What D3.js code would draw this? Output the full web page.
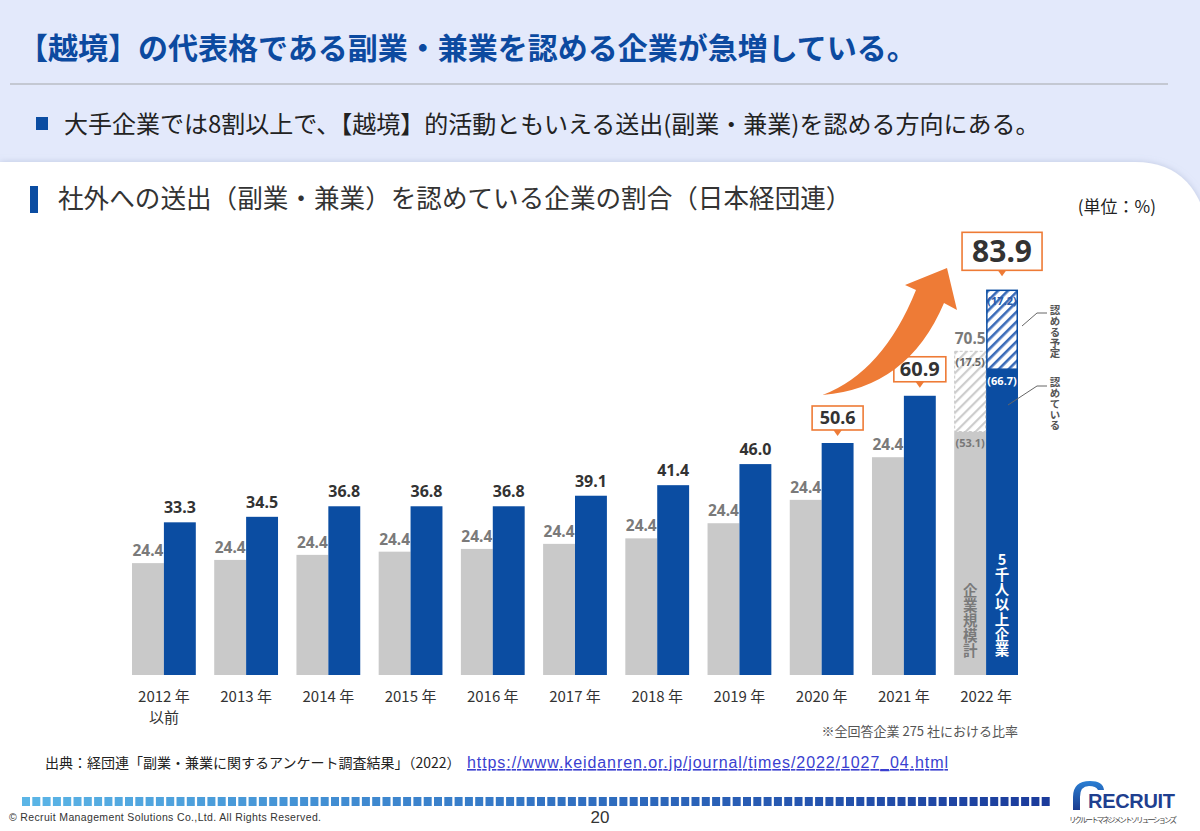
<!DOCTYPE html>
<html><head><meta charset="utf-8">
<script src="https://cdn.jsdelivr.net/npm/d3@7/dist/d3.min.js"></script>
<style>
html,body{margin:0;padding:0;background:#fff;}
svg{display:block;}
</style></head>
<body>
<svg id="c" width="1200" height="831"></svg>
<script>
// ---------------- DATA ----------------
const years = ["2012","2013","2014","2015","2016","2017","2018","2019","2020","2021","2022"];
const yearLabels = ["2012 年","2013 年","2014 年","2015 年","2016 年","2017 年","2018 年","2019 年","2020 年","2021 年","2022 年"];
const yearSubLabels = ["以前","","","","","","","","","",""];
// 5千人以上企業 (認めている)
const blueValues = [33.3,34.5,36.8,36.8,36.8,39.1,41.4,46.0,50.6,60.9,66.7];
const blueLabels = ["33.3","34.5","36.8","36.8","36.8","39.1","41.4","46.0","50.6","60.9","(66.7)"];
// 企業規模計 (heights as drawn; labels as printed)
const greyValues = [24.4,25.1,26.2,26.9,27.5,28.6,29.8,33.1,38.2,47.5,53.1];
const greyLabels = ["24.4","24.4","24.4","24.4","24.4","24.4","24.4","24.4","24.4","24.4","(53.1)"];
// 2022 認める予定
const plannedYear = "2022";
const bluePlanned = 17.2, bluePlannedLabel = "(17.2)", blueTotalLabel = "83.9";
const greyPlanned = 17.5, greyPlannedLabel = "(17.5)", greyTotalLabel = "70.5";
const calloutYears = ["2020","2021"];

const title = "【越境】の代表格である副業・兼業を認める企業が急増している。";
const subtitle = "大手企業では8割以上で、【越境】的活動ともいえる送出(副業・兼業)を認める方向にある。";
const chartTitle = "社外への送出（副業・兼業）を認めている企業の割合（日本経団連）";
const unitLabel = "(単位：%)";
const note = "※全回答企業 275 社における比率";
const source = "出典：経団連「副業・兼業に関するアンケート調査結果」（2022）";
const sourceUrl = "https://www.keidanren.or.jp/journal/times/2022/1027_04.html";
const greyName = "企業規模計", blueName = "5千人以上企業";
const plannedName = "認める予定", currentName = "認めている";

// ---------------- SETUP ----------------
const svg = d3.select("#c");
const JP = "'Noto Sans CJK JP','Noto Sans',sans-serif";
const NUM = "'Noto Sans','Open Sans',sans-serif";
const BLUE = "#0b4da2", GREY = "#c9c9c9", ORANGE = "#ee7b36";

const defs = svg.append("defs");
const pg = defs.append("pattern").attr("id","hatchGrey").attr("patternUnits","userSpaceOnUse")
  .attr("width",7).attr("height",7).attr("patternTransform","rotate(45)");
pg.append("rect").attr("width",7).attr("height",7).attr("fill","#fff");
pg.append("rect").attr("width",2.2).attr("height",7).attr("fill","#cdcdcd");
const pb = defs.append("pattern").attr("id","hatchBlue").attr("patternUnits","userSpaceOnUse")
  .attr("width",7).attr("height",7).attr("patternTransform","rotate(45)");
pb.append("rect").attr("width",7).attr("height",7).attr("fill","#fff");
pb.append("rect").attr("width",2.6).attr("height",7).attr("fill","#3a6bb8");
const lg = defs.append("linearGradient").attr("id","logoGrad").attr("x1","0").attr("x2","0").attr("y1","0").attr("y2","1");
lg.append("stop").attr("offset","0").attr("stop-color","#2a7fd4");
lg.append("stop").attr("offset","1").attr("stop-color","#1a3c8f");
const sh = defs.append("filter").attr("id","shadow").attr("x","-5%").attr("y","-5%").attr("width","110%").attr("height","110%");
sh.append("feDropShadow").attr("dx",0).attr("dy",0).attr("stdDeviation",3).attr("flood-color","#9aa6c8").attr("flood-opacity",0.5);

// background
svg.append("rect").attr("width",1200).attr("height",831).attr("fill","#e3e9fb");
svg.append("path").attr("d","M0,162 L1135,162 Q1200,162 1210,240 L1210,840 L0,840 Z")
  .attr("fill","#fff").attr("filter","url(#shadow)");
svg.append("rect").attr("x",0).attr("y",775).attr("width",1200).attr("height",56).attr("fill","#fff");

// headers
svg.append("text").attr("x",18).attr("y",59).attr("font-family",JP).attr("font-weight",700)
  .attr("font-size",30).attr("fill","#0c4aa0").text(title);
svg.append("rect").attr("x",10).attr("y",83).attr("width",1158).attr("height",2).attr("fill","#c4c8d2");
svg.append("rect").attr("x",36).attr("y",117).attr("width",12).attr("height",13).attr("fill",BLUE);
svg.append("text").attr("x",64).attr("y",133).attr("font-family",JP).attr("font-size",24)
  .attr("fill","#222").text(subtitle);
svg.append("rect").attr("x",30).attr("y",186).attr("width",8).attr("height",27).attr("fill",BLUE);
svg.append("text").attr("x",58).attr("y",208).attr("font-family",JP).attr("font-size",25.6)
  .attr("fill","#333").text(chartTitle);
svg.append("text").attr("x",1156).attr("y",213).attr("text-anchor","end").attr("font-family",JP)
  .attr("font-size",17).attr("fill","#222").text(unitLabel);

// ---------------- SCALES ----------------
const y = d3.scaleLinear().domain([0,100]).range([675,216.5]);
const x = d3.scaleBand().domain(years).range([132,1018]).paddingInner(0.224).paddingOuter(0);
const xs = d3.scaleBand().domain(["grey","blue"]).range([0,x.bandwidth()]);
const bw = xs.bandwidth();

const g = svg.append("g");
const rows = years.map((yr,i)=>({yr,i,grey:greyValues[i],blue:blueValues[i]}));

// grey bars
g.selectAll(".gb").data(rows).join("rect")
  .attr("x",d=>x(d.yr)+xs("grey")).attr("width",bw)
  .attr("y",d=>y(d.grey)).attr("height",d=>y(0)-y(d.grey)).attr("fill",GREY);
// blue bars
g.selectAll(".bb").data(rows).join("rect")
  .attr("x",d=>x(d.yr)+xs("blue")).attr("width",bw)
  .attr("y",d=>y(d.blue)).attr("height",d=>y(0)-y(d.blue)).attr("fill",BLUE);

// planned (2022) stacked hatched parts
const pi = years.indexOf(plannedYear);
const gx = x(plannedYear)+xs("grey"), bx = x(plannedYear)+xs("blue");
g.append("rect").attr("x",gx+0.5).attr("width",bw-1)
  .attr("y",y(greyValues[pi]+greyPlanned)).attr("height",y(greyValues[pi])-y(greyValues[pi]+greyPlanned))
  .attr("fill","url(#hatchGrey)").attr("stroke","#c8c8c8").attr("stroke-width",1).attr("stroke-dasharray","3,2");
g.append("rect").attr("x",bx+0.75).attr("width",bw-1.5)
  .attr("y",y(blueValues[pi]+bluePlanned)).attr("height",y(blueValues[pi])-y(blueValues[pi]+bluePlanned))
  .attr("fill","url(#hatchBlue)").attr("stroke",BLUE).attr("stroke-width",1.5);

// grey labels
rows.forEach(d=>{
  if (d.yr===plannedYear) return;
  g.append("text").attr("x",x(d.yr)+xs("grey")+bw/2).attr("y",y(d.grey)-7)
    .attr("text-anchor","middle").attr("font-family",NUM).attr("font-weight",700)
    .attr("font-size",15.5).attr("fill","#7a7a7a").text(greyLabels[d.i]);
});
// blue labels (plain)
rows.forEach(d=>{
  if (d.yr===plannedYear || calloutYears.includes(d.yr)) return;
  g.append("text").attr("x",x(d.yr)+xs("blue")+bw/2).attr("y",y(d.blue)-9)
    .attr("text-anchor","middle").attr("font-family",NUM).attr("font-weight",700)
    .attr("font-size",16).attr("fill","#333").text(blueLabels[d.i]);
});

// callout boxes
function callout(cx, barTop, w, h, gap, fs, txt){
  const by = barTop - gap - h;
  g.append("path").attr("d",`M${cx-5},${by+h-1} L${cx},${by+h+6} L${cx+5},${by+h-1} Z`).attr("fill",ORANGE);
  g.append("rect").attr("x",cx-w/2).attr("y",by).attr("width",w).attr("height",h)
    .attr("fill","#fff").attr("stroke",ORANGE).attr("stroke-width",1.6);
  g.append("text").attr("x",cx).attr("y",by+h/2+fs*0.36).attr("text-anchor","middle")
    .attr("font-family",NUM).attr("font-weight",700).attr("font-size",fs).attr("fill","#333").text(txt);
}
callout(x("2020")+xs("blue")+bw/2, y(blueValues[8]), 51, 24, 13, 18, blueLabels[8]);
callout(x("2021")+xs("blue")+bw/2, y(blueValues[9]), 52, 25, 14, 20, blueLabels[9]);
callout(x(plannedYear)+xs("blue")+bw/2, y(blueValues[pi]+bluePlanned), 80, 38, 20, 30, blueTotalLabel);

// 2022 inner labels
const gcx = gx+bw/2, bcx = bx+bw/2;
g.append("text").attr("x",gcx).attr("y",y(greyValues[pi]+greyPlanned)-7).attr("text-anchor","middle")
  .attr("font-family",NUM).attr("font-weight",700).attr("font-size",15.5).attr("fill","#7a7a7a").text(greyTotalLabel);
g.append("text").attr("x",gcx).attr("y",y(greyValues[pi]+greyPlanned)+15).attr("text-anchor","middle")
  .attr("font-family",NUM).attr("font-weight",700).attr("font-size",11).attr("fill","#666").text(greyPlannedLabel);
g.append("text").attr("x",gcx).attr("y",y(greyValues[pi])+15).attr("text-anchor","middle")
  .attr("font-family",NUM).attr("font-weight",700).attr("font-size",11).attr("fill","#777").text(greyLabels[pi]);
g.append("text").attr("x",bcx).attr("y",y(blueValues[pi]+bluePlanned)+15).attr("text-anchor","middle")
  .attr("font-family",NUM).attr("font-weight",700).attr("font-size",11).attr("fill","#2a5bab").text(bluePlannedLabel);
g.append("text").attr("x",bcx).attr("y",y(blueValues[pi])+16).attr("text-anchor","middle")
  .attr("font-family",NUM).attr("font-weight",700).attr("font-size",11).attr("fill","#fff").text(blueLabels[pi]);

// vertical texts
function vtext(cx, top, str, fs, ls, fill){
  g.append("text").attr("x",cx).attr("y",top)
    .style("writing-mode","vertical-rl").style("text-orientation","upright")
    .style("letter-spacing", ls+"px")
    .attr("font-family",JP).attr("font-weight",700).attr("font-size",fs).attr("fill",fill).text(str);
}
vtext(gcx, 583, greyName, 14.5, 0.5, "#7a7a7a");
vtext(bcx, 552, blueName, 14.5, 0.5, "#fff");
vtext(1055, 305, plannedName, 10.5, 0.3, "#555");
vtext(1055, 377, currentName, 10.5, 0.3, "#555");
g.append("polyline").attr("points",`1047,313 1037,313 1022,326`).attr("fill","none").attr("stroke","#666").attr("stroke-width",1);
g.append("polyline").attr("points",`1047,386 1037,386 1008,405`).attr("fill","none").attr("stroke","#666").attr("stroke-width",1);

// x axis labels
rows.forEach(d=>{
  const cx = x(d.yr)+x.bandwidth()/2;
  g.append("text").attr("x",cx).attr("y",702).attr("text-anchor","middle").attr("font-family",JP)
    .attr("font-size",15).attr("fill","#333").text(yearLabels[d.i]);
  if (yearSubLabels[d.i]) g.append("text").attr("x",cx).attr("y",723).attr("text-anchor","middle").attr("font-family",JP)
    .attr("font-size",15).attr("fill","#333").text(yearSubLabels[d.i]);
});
g.append("text").attr("x",1018).attr("y",736).attr("text-anchor","end").attr("font-family",JP)
  .attr("font-size",13).attr("fill","#555").text(note);

// orange arrow annotation
const ax0 = x("2020")+xs("blue")+bw-31, ay0 = 395;
svg.append("path").attr("fill",ORANGE)
  .attr("d",`M${ax0},${ay0} Q883,372 916,290 L905,285 L947,268 L957,310 L944,303 Q908,388 ${ax0},${ay0} Z`);

// footer
svg.append("text").attr("x",45).attr("y",768).attr("font-family",JP).attr("font-size",14)
  .attr("fill","#222").text(source);
svg.append("text").attr("x",467).attr("y",768).attr("font-family","'Liberation Sans',Arial,sans-serif").attr("font-size",16)
  .attr("fill","#3a3fd0").attr("text-decoration","underline").attr("textLength",481).text(sourceUrl);

const nSq = 100;
const sqs = d3.range(nSq);
svg.append("g").selectAll("rect").data(sqs).join("rect")
  .attr("x",i=>22+i*10.3).attr("y",797).attr("width",8).attr("height",9)
  .attr("fill",i=>d3.interpolateRgbBasis(["#5bb5e6","#2f73c6","#1b3b9b"])(i/(nSq-1)));

svg.append("text").attr("x",9).attr("y",821).attr("font-family","'Liberation Sans',Arial,sans-serif")
  .attr("font-size",10.5).attr("fill","#333").attr("textLength",312).text("© Recruit Management Solutions Co.,Ltd. All Rights Reserved.");
svg.append("text").attr("x",600).attr("y",823).attr("text-anchor","middle").attr("font-family","'Liberation Sans',Arial,sans-serif")
  .attr("font-size",17).attr("fill","#333").text("20");

// logo
svg.append("path").attr("d","M1073,810 L1073,797 Q1073,781 1090,781 Q1103,781 1104,790 L1098,790 Q1096,786 1089,786 Q1080,786 1080,797 L1080,810 Z")
  .attr("fill","url(#logoGrad)");
svg.append("text").attr("x",1088).attr("y",808).attr("font-family","'Liberation Sans',Arial,sans-serif")
  .attr("font-weight",700).attr("font-size",20).attr("fill","#1f3f8f").attr("textLength",87).text("RECRUIT");
svg.append("text").attr("x",1069).attr("y",823).attr("font-family",JP)
  .attr("font-size",7.5).attr("fill","#444").attr("textLength",108).text("リクルートマネジメントソリューションズ");
</script>
</body></html>
